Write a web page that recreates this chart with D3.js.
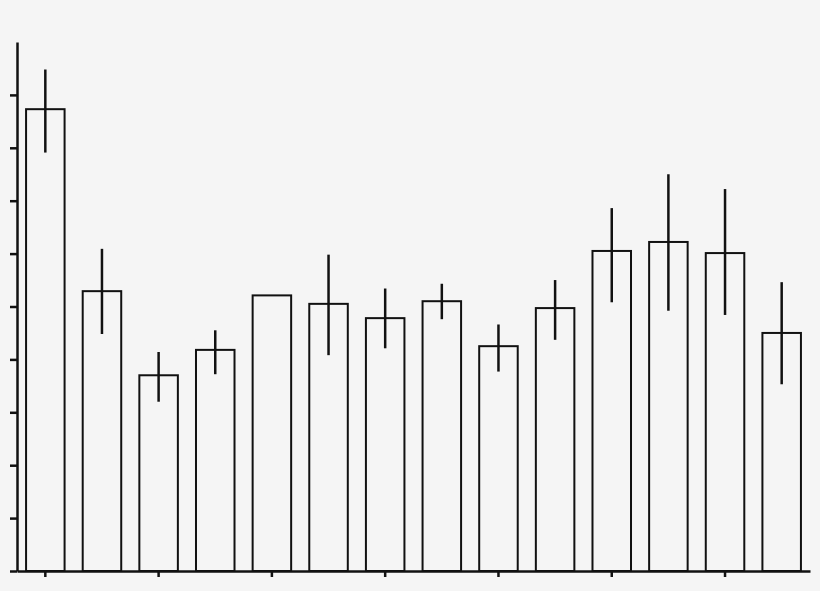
<!DOCTYPE html>
<html>
<head>
<meta charset="utf-8">
<script src="https://cdn.jsdelivr.net/npm/d3@7"></script>
<style>
  html, body { margin: 0; padding: 0; background: #f5f5f5; }
  svg { display: block; }
  .axis path, .axis line { stroke: #111; stroke-width: 2.5; }
</style>
</head>
<body>
<div id="chart"></div>
<script>
const width = 820
const height = 591

// bar values (no labels shown on the original)
const categories = ["1","2","3","4","5","6","7","8","9","10","11","12","13","14"]
const means = [8.73, 5.29, 3.70, 4.18, 5.21, 5.05, 4.78, 5.10, 4.25, 4.97, 6.05, 6.22, 6.01, 4.50]
const errHigh = [9.48, 6.09, 4.14, 4.55, null, 5.98, 5.34, 5.43, 4.66, 5.50, 6.86, 7.50, 7.22, 5.46]
const errLow = [7.91, 4.48, 3.20, 3.72, null, 4.08, 4.21, 4.76, 3.77, 4.37, 5.08, 4.92, 4.84, 3.53]
const yTicks = [0, 1, 2, 3, 4, 5, 6, 7, 8, 9]

const margin = {top: 42, bottom: 20, left: 17, right: 10}

const svg = d3.select("div#chart").append("svg").attr("width", width).attr("height", height)
svg.append("rect").attr("width", width).attr("height", height).attr("fill", "#f5f5f5")

const x = d3.scaleBand()
    .domain(categories)
    .range([margin.left, width - margin.right])
    .paddingInner(0.32)
    .paddingOuter(0.16)
const y = d3.scaleLinear().domain([0, 10]).range([height - margin.bottom, margin.top])

const data = categories.map((c, i) => ({cat: c, v: means[i], hi: errHigh[i], lo: errLow[i]}))

const barGroup = svg.append("g").attr("class", "bars")
barGroup.selectAll("rect").data(data)
    .enter()
    .append("rect")
    .attr("x", d => x(d.cat))
    .attr("y", d => y(d.v))
    .attr("width", x.bandwidth())
    .attr("height", d => y(0) - y(d.v))
    .attr("fill", "none")
    .attr("stroke", "#111")
    .attr("stroke-width", 2)

barGroup.selectAll("line.err").data(data.filter(d => d.hi != null))
    .enter()
    .append("line")
    .attr("class", "err")
    .attr("x1", d => x(d.cat) + x.bandwidth() / 2)
    .attr("x2", d => x(d.cat) + x.bandwidth() / 2)
    .attr("y1", d => y(d.hi))
    .attr("y2", d => y(d.lo))
    .attr("stroke", "#111")
    .attr("stroke-width", 2.5)

const xAxis = d3.axisBottom(x)
    .tickValues(categories.filter((c, i) => i % 2 === 0))
    .tickSize(6)
    .tickSizeOuter(0)
    .tickFormat("")
const yAxis = d3.axisLeft(y)
    .tickValues(yTicks)
    .tickSize(7)
    .tickSizeOuter(0)
    .tickFormat("")

svg.append("g").attr("class", "axis")
    .attr("transform", `translate(0,${y(0)})`)
    .call(xAxis)
svg.append("g").attr("class", "axis")
    .attr("transform", `translate(${margin.left},0)`)
    .call(yAxis)
</script>
</body>
</html>
